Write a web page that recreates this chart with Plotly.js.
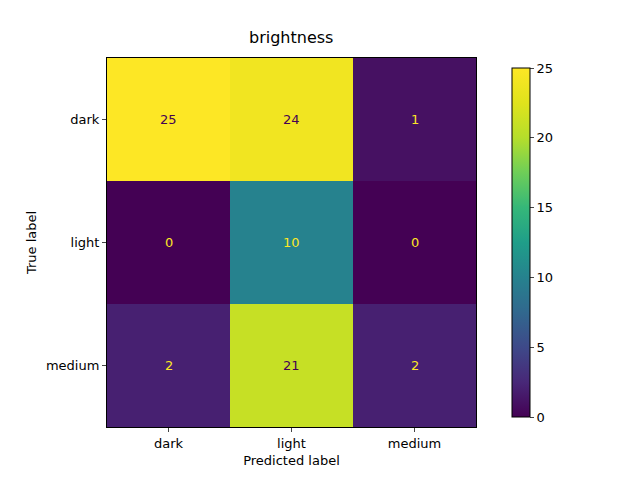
<!DOCTYPE html>
<html><head><script src="https://cdn.plot.ly/plotly-3.0.0.min.js"></script></head>
<body style="margin:0"><div id="c" style="width:640px;height:480px"></div>
<script>
const labels = ["dark","light","medium"];
const matrix = [[25,24,1],[0,10,0],[2,21,2]];
const viridis = [[0,'#440154'],[0.1,'#482878'],[0.2,'#3e4989'],[0.3,'#31688e'],[0.4,'#26828e'],[0.5,'#1f9e89'],[0.6,'#35b779'],[0.7,'#6ece58'],[0.8,'#b5de2b'],[0.9,'#e0e31c'],[1,'#fde725']];
const ann = [];
matrix.forEach((row,i)=>row.forEach((v,j)=>ann.push({x:labels[j],y:labels[i],text:String(v),showarrow:false,font:{size:13,color:v<12.5?'#fde725':'#440154'}})));
Plotly.newPlot('c',[{type:'heatmap',z:matrix,x:labels,y:labels,colorscale:viridis,zmin:0,zmax:25,
 colorbar:{x:1.0705,xanchor:'left',y:0,yanchor:'bottom',len:1,thickness:18,outlinewidth:1,outlinecolor:'#000',tickvals:[0,5,10,15,20,25],ticks:'outside',ticklen:4,tickfont:{size:13}}}],
{width:640,height:480,margin:{l:107,r:164,t:58,b:53},paper_bgcolor:'#fff',plot_bgcolor:'#fff',
 font:{family:'DejaVu Sans',color:'#000'},
 title:{text:'brightness',font:{size:16},x:0.455,xanchor:'center',y:0.91,yanchor:'bottom'},
 xaxis:{title:{text:'Predicted label',font:{size:13},standoff:6},ticks:'outside',ticklen:4,tickfont:{size:13},showline:true,mirror:true,linecolor:'#000',showgrid:false},
 yaxis:{title:{text:'True label',font:{size:13},standoff:6},autorange:'reversed',ticks:'outside',ticklen:4,tickfont:{size:13},showline:true,mirror:true,linecolor:'#000',showgrid:false},
 annotations:ann},{displayModeBar:false});
</script></body></html>
